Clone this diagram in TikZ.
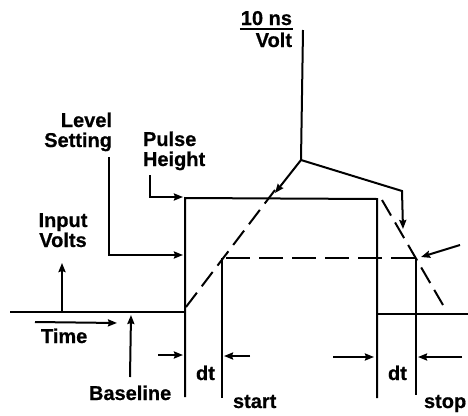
\documentclass[tikz,border=0pt]{standalone}
\usepackage{fontspec}
\setmainfont{Liberation Sans}[BoldFeatures={FakeBold=0.6}]
\usetikzlibrary{arrows.meta}
\begin{document}
\begin{tikzpicture}[x=1pt,y=-1pt, line width=2pt, line cap=butt, line join=miter,
  lbl/.style={font=\bfseries\fontsize{20}{21}\selectfont, inner sep=0pt},
  arr/.style={-{Stealth[length=9pt,width=7pt,inset=1pt]}},
  dsh/.style={dash pattern=on 18pt off 8pt},
  hdsh/.style={dash pattern=on 24pt off 9pt}]
\useasboundingbox (0,0) rectangle (468,415);
% coordinates
\coordinate (bl0) at (10,312);
\coordinate (p1) at (185,312);
\coordinate (p1b) at (185,397);
\coordinate (p1t) at (185,198);
\coordinate (p2t) at (377,199);
\coordinate (p2b) at (377,398);
\coordinate (p2m) at (377,314);
\coordinate (br) at (468,314);
\coordinate (st) at (222,258);
\coordinate (stb) at (222,398);
\coordinate (sp) at (416,258);
\coordinate (spb) at (416,395);
% pulse
\draw (bl0) -- (p1);
\draw (p1b) -- (p1t) -- (p2t) -- (p2b);
\draw (p2m) -- (br);
\draw (st) -- (stb);
\draw (sp) -- (spb);
% dashed
\draw[dsh] (186,307) -- (275,190);
\draw[hdsh] (226,258) -- (420,258);
\draw[dsh] (382,200) -- (443,305);
% labels
\node[lbl, anchor=base east] (ns) at (293,25) {10 ns};
\draw[line width=1.5pt] ([yshift=-4pt]ns.base west) -- ([yshift=-4pt]ns.base east);
\node[lbl, anchor=base east] (volt) at (293,47) {Volt};
\node[lbl, anchor=base east] (level) at (113,127) {Level};
\node[lbl, anchor=base east] (setting) at (113,147) {Setting};
\node[lbl, anchor=base west] (pulse) at (142,146) {Pulse};
\node[lbl, anchor=base west] (height) at (142,166) {Height};
\node[lbl, anchor=base] (input) at (63,227) {Input};
\node[lbl, anchor=base] (volts) at (63,247) {Volts};
\node[lbl, anchor=base west] (time) at (40,343) {Time};
\node[lbl, anchor=base west] (baseline) at (88,400) {Baseline};
\node[lbl, anchor=base west] (dt1) at (195,380) {dt};
\node[lbl, anchor=base west] (start) at (232,408) {start};
\node[lbl, anchor=base west] (dt2) at (387,380) {dt};
\node[lbl, anchor=base west] (stop) at (423,408) {stop};
% connectors
\coordinate (vtop) at (303,30);
\coordinate (vj) at (301,160);
\coordinate (vr) at (402,191);
\draw (vtop) -- (vj);
\draw[arr] (vj) -- (275,193);
\draw[arr] (vj) -- (vr) -- (403,229);
\draw[arr] (460,245) -- (421,257);
\draw[arr] (109,157) -- (109,255) -- (183,255);
\draw[arr] (150,175) -- (150,197) -- (183,197);
\draw[arr] (62,312) -- (62,263);
\draw[arr] (35,322) -- (117,323);
\draw[arr] (130,377) -- (131,315);
\draw[arr] (158,355) -- (183,355);
\draw[arr] (250,356) -- (224,356);
\draw[arr] (333,357) -- (374,357);
\draw[arr] (462,357) -- (418,357);
\end{tikzpicture}
\end{document}
